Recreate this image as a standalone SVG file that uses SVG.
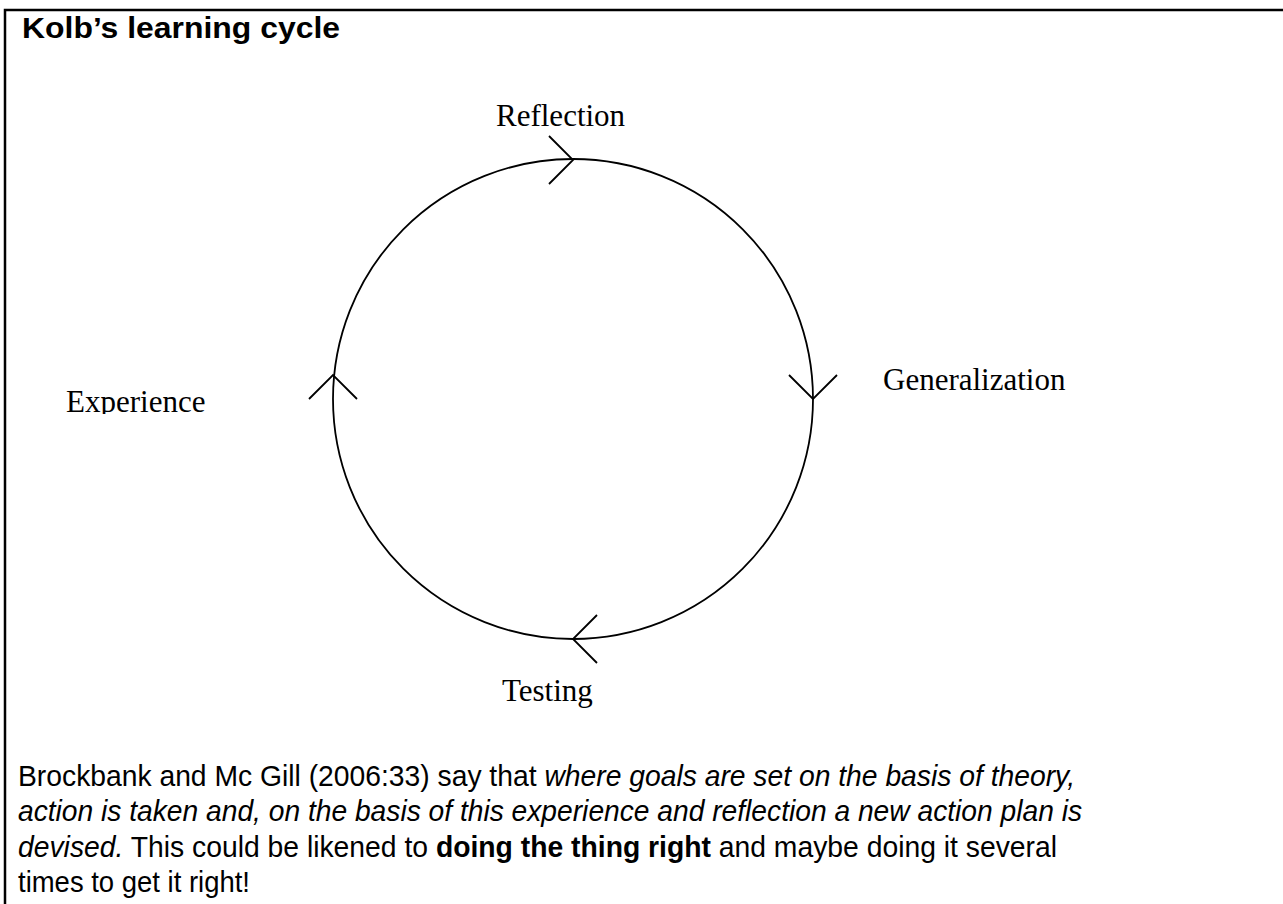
<svg xmlns="http://www.w3.org/2000/svg" width="1283" height="904" viewBox="0 0 1283 904">
<style>
.lbl{font-family:"Liberation Serif","Times New Roman",serif;font-size:31px;fill:#000}
.body{font-family:"Liberation Sans",Arial,sans-serif;font-size:30px;fill:#000}
.arr{fill:none;stroke:#000;stroke-width:1.8}
</style>
<defs>
<clipPath id="cR"><rect x="480" y="90" width="170" height="37"/></clipPath>
<clipPath id="cE"><rect x="50" y="380" width="180" height="34"/></clipPath>
</defs>
<rect width="1283" height="904" fill="#fff"/>
<path d="M5,904 V10 H1283" fill="none" stroke="#000" stroke-width="2.5"/>
<text x="22" y="38" font-family="Liberation Sans, Arial, sans-serif" font-size="30" font-weight="bold" textLength="318" lengthAdjust="spacingAndGlyphs">Kolb’s learning cycle</text>
<g id="cycle">
<circle cx="573" cy="399" r="240" fill="none" stroke="#000" stroke-width="1.8"/>
</g>
<g id="connectors">
<polyline class="arr" points="549,136 573,160 549,184"/>
<polyline class="arr" points="789,375 813,399 837,375"/>
<polyline class="arr" points="597,615 573,639 597,663"/>
<polyline class="arr" points="309,399 333,375 357,399"/>
</g>
<g id="reflection"><text class="lbl" x="496" y="126" clip-path="url(#cR)">Reflection</text></g>
<g id="generalization"><text class="lbl" x="883" y="390">Generalization</text></g>
<g id="testing"><text class="lbl" x="502" y="701">Testing</text></g>
<g id="experience"><text class="lbl" x="66" y="412" clip-path="url(#cE)">Experience</text></g>
<g id="caption">
<text class="body" x="18" y="786" textLength="1057" lengthAdjust="spacingAndGlyphs">Brockbank and Mc Gill (2006:33) say that <tspan font-style="italic">where goals are set on the basis of theory,</tspan></text>
<text class="body" x="18" y="821" font-style="italic" textLength="1064" lengthAdjust="spacingAndGlyphs">action is taken and, on the basis of this experience and reflection a new action plan is</text>
<text class="body" x="18" y="857" textLength="1039" lengthAdjust="spacingAndGlyphs"><tspan font-style="italic">devised.</tspan> This could be likened to <tspan font-weight="bold">doing the thing right</tspan> and maybe doing it several</text>
<text class="body" x="18" y="892" textLength="232" lengthAdjust="spacingAndGlyphs">times to get it right!</text>
</g>
</svg>
